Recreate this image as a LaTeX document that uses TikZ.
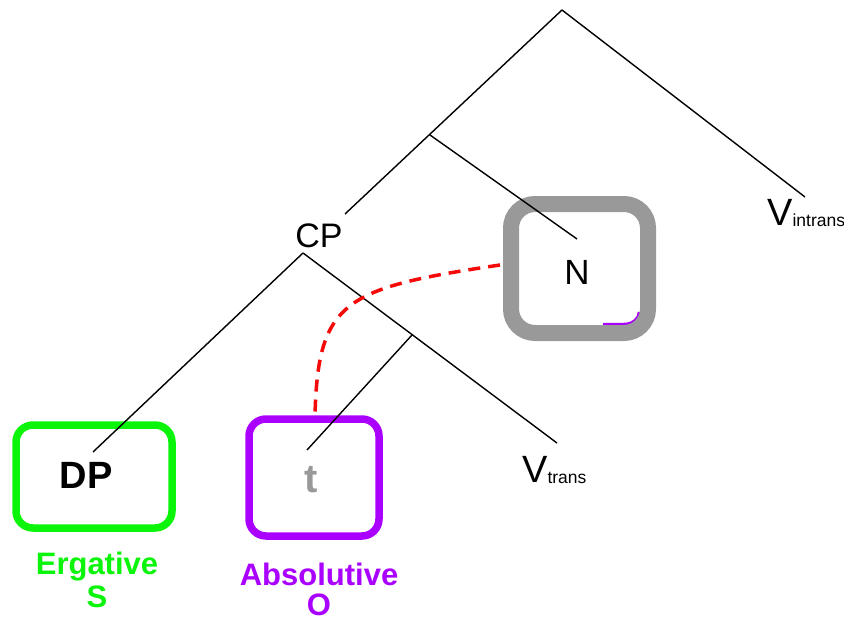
\documentclass[tikz,border=0pt]{standalone}
\usepackage{fontspec}
\setmainfont{Liberation Sans}
\begin{document}
\begin{tikzpicture}[x=1pt,y=-1pt,
  branch/.style={line width=1.4pt, black},
  lbl/.style={inner sep=0pt, anchor=base},
]
\definecolor{ergc}{RGB}{10,245,10}
\definecolor{absc}{RGB}{170,0,255}
\definecolor{boxgray}{RGB}{153,153,153}
\definecolor{linkred}{RGB}{245,10,10}
\useasboundingbox (0,0) rectangle (844,621);
\fill[white] (0,0) rectangle (844,621);

% tree points
\coordinate (top) at (562,10);
\coordinate (vi) at (805,197);
\coordinate (cptop) at (345,214);
\coordinate (mid1) at (430,135);
\coordinate (nend) at (577,239);
\coordinate (cpbot) at (303,253);
\coordinate (dpend) at (93,452);
\coordinate (vtend) at (557,443);
\coordinate (mid2) at (412,335);
\coordinate (tend) at (307,450);

% purple artifact hugging the inner corner of the gray box
\draw[absc, line width=2.5pt] (603,324) -- (624,324) .. controls (633,324) and (639,318) .. (639,312);

% boxes
\draw[ergc, line width=7.5pt, rounded corners=17pt] (16,425) rectangle (172,528);
\draw[absc, line width=7.5pt, rounded corners=17pt] (249,419) rectangle (379,536);
\draw[boxgray, line width=16pt, rounded corners=24pt] (511,204) rectangle (648,333);

% branches
\draw[branch] (top) -- (vi);
\draw[branch] (top) -- (cptop);
\draw[branch] (mid1) -- (nend);
\draw[branch] (cpbot) -- (dpend);
\draw[branch] (cpbot) -- (vtend);
\draw[branch] (mid2) -- (tend);

% movement link
\coordinate (linkA) at (500,265);
\coordinate (linkB) at (315,415);
\draw[linkred, line width=3.5pt, dash pattern=on 12pt off 8pt]
  (linkA) .. controls (345,288) and (318,300) .. (linkB);

% labels
\node[lbl, font=\fontsize{34}{34}\selectfont] (cp) at (319,247) {CP};
\node[lbl, font=\fontsize{35}{35}\selectfont] (n) at (577,284) {N};
\node[lbl, font=\bfseries\fontsize{38}{38}\selectfont] (dp) at (86,488) {DP};
\node[lbl, font=\bfseries\fontsize{40}{40}\selectfont, text=boxgray] (t) at (311,492) {t};
\node[inner sep=0pt, anchor=base west, font=\fontsize{38}{38}\selectfont] (vt) at (522,482) {V\raisebox{-1pt}{\fontsize{17.5}{17.5}\selectfont trans}};
\node[inner sep=0pt, anchor=base west, font=\fontsize{38}{38}\selectfont] (vin) at (767,225) {V\raisebox{-1pt}{\fontsize{17.5}{17.5}\selectfont intrans}};
\node[lbl, font=\bfseries\fontsize{31}{31}\selectfont, text=ergc] (erg) at (97,574) {Ergative};
\node[lbl, font=\bfseries\fontsize{31}{31}\selectfont, text=ergc] (s) at (97,607) {S};
\node[lbl, font=\bfseries\fontsize{31}{31}\selectfont, text=absc] (abs) at (319,585) {Absolutive};
\node[lbl, font=\bfseries\fontsize{31}{31}\selectfont, text=absc] (o) at (319,615) {O};
\end{tikzpicture}
\end{document}
